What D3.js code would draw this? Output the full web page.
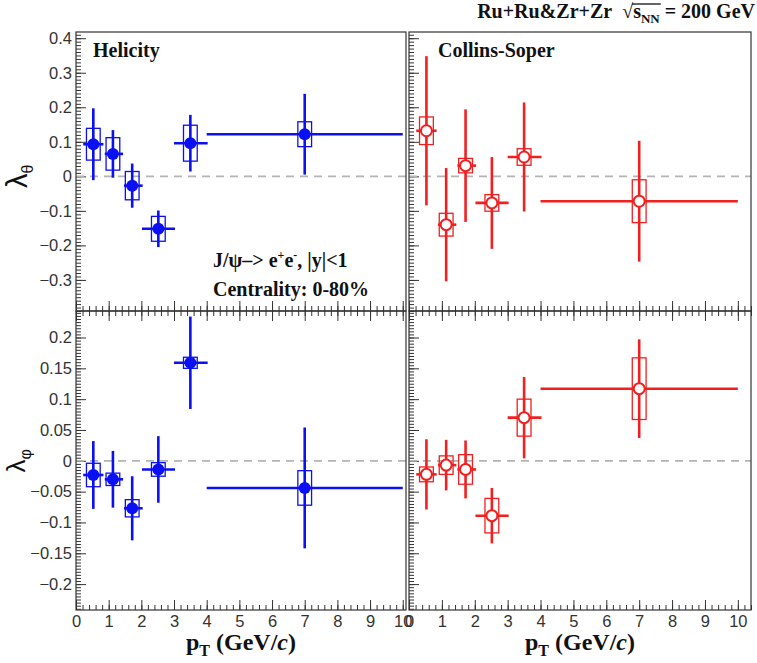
<!DOCTYPE html>
<html>
<head>
<meta charset="utf-8">
<script src="https://cdn.jsdelivr.net/npm/d3@7"></script>
<style>
  body { margin: 0; background: #fff; }
  svg text { font-family: "Liberation Sans", Arial, sans-serif; }
  .lbl { font-family: "Liberation Serif", "Times New Roman", serif !important; font-weight: bold; fill: #111; }
</style>
</head>
<body>
<div id="chart"></div>
<script>
// pT bins (GeV/c), shared by all four panels
const ptCenter = [0.53, 1.13, 1.72, 2.52, 3.5, 7.0];
const ptLow    = [0.22, 0.88, 1.47, 2.02, 3.0, 4.0];
const ptHigh   = [0.84, 1.44, 2.04, 3.03, 4.03, 10.0];

// Helicity frame
const heliTheta     = [0.093, 0.065, -0.027, -0.152, 0.096, 0.122];
const heliThetaStat = [0.104, 0.069, 0.064, 0.053, 0.082, 0.117];
const heliThetaSys  = [0.046, 0.047, 0.041, 0.036, 0.052, 0.036];
const heliPhi       = [-0.023, -0.030, -0.077, -0.014, 0.159, -0.044];
const heliPhiStat   = [0.055, 0.046, 0.052, 0.054, 0.075, 0.098];
const heliPhiSys    = [0.019, 0.010, 0.014, 0.011, 0.009, 0.028];

// Collins-Soper frame
const csTheta     = [0.132, -0.140, 0.031, -0.077, 0.056, -0.072];
const csThetaStat = [0.216, 0.164, 0.163, 0.133, 0.158, 0.175];
const csThetaSys  = [0.040, 0.033, 0.021, 0.024, 0.024, 0.062];
const csPhi       = [-0.022, -0.007, -0.014, -0.089, 0.070, 0.117];
const csPhiStat   = [0.057, 0.041, 0.047, 0.045, 0.066, 0.080];
const csPhiSys    = [0.012, 0.015, 0.024, 0.028, 0.030, 0.050];

// tick labels
const ptTicks = [0, 1, 2, 3, 4, 5, 6, 7, 8, 9, 10];
const thetaTicks = [-0.3, -0.2, -0.1, 0, 0.1, 0.2, 0.3, 0.4];
const phiTicks = [-0.2, -0.15, -0.1, -0.05, 0, 0.05, 0.1, 0.15, 0.2];

const blue = "#0b10f2", red = "#f02020";

const svg = d3.select("#chart")
  .append("svg")
    .attr("width", 757)
    .attr("height", 663);

const xScales = [
  d3.scaleLinear().domain([0, 10.1]).range([76, 406]),
  d3.scaleLinear().domain([0, 10.4]).range([409, 751])
];
const yScales = [
  d3.scaleLinear().domain([-0.39, 0.418]).range([311, 32]),
  d3.scaleLinear().domain([-0.242, 0.243]).range([610, 311])
];

const panels = [
  { col: 0, row: 0, vals: heliTheta, stat: heliThetaStat, sys: heliThetaSys, color: blue, open: false },
  { col: 1, row: 0, vals: csTheta,   stat: csThetaStat,   sys: csThetaSys,   color: red,  open: true },
  { col: 0, row: 1, vals: heliPhi,   stat: heliPhiStat,   sys: heliPhiSys,   color: blue, open: false },
  { col: 1, row: 1, vals: csPhi,     stat: csPhiStat,     sys: csPhiSys,     color: red,  open: true }
];

const yFmt = d3.format("~g");

function styleAxis(g) {
  g.select(".domain").remove();
  g.selectAll("line").attr("stroke", "#333");
  g.selectAll("text").attr("fill", "#333").style("font-size", "16.5px");
}

panels.forEach(p => {
  const x = xScales[p.col], y = yScales[p.row];
  const [x0, x1] = x.range();
  const [y0, y1] = y.range();
  const g = svg.append("g");

  // minor tick positions
  const ySteps = p.row === 0 ? 0.01 : 0.005;
  const yMinor = d3.range(Math.ceil(y.domain()[0] / ySteps), Math.floor(y.domain()[1] / ySteps) + 1)
    .map(i => i * ySteps);
  const xMinor = d3.range(0, Math.floor(x.domain()[1] / 0.2) + 1).map(i => i * 0.2);

  // Y Axis
  g.append("g").attr("transform", `translate(${x0},0)`)
    .call(d3.axisLeft(y).tickValues(yMinor).tickSize(-5).tickFormat(""))
    .call(styleAxis);
  g.append("g").attr("transform", `translate(${x0},0)`)
    .call(d3.axisLeft(y)
      .tickValues(p.row === 0 ? thetaTicks : phiTicks)
      .tickSize(-10).tickPadding(4)
      .tickFormat(p.col === 0 ? yFmt : ""))
    .call(styleAxis);

  // X Axis
  g.append("g").attr("transform", `translate(0,${y0})`)
    .call(d3.axisBottom(x).tickValues(xMinor).tickSize(-5).tickFormat(""))
    .call(styleAxis);
  g.append("g").attr("transform", `translate(0,${y0})`)
    .call(d3.axisBottom(x).tickValues(ptTicks).tickSize(-10).tickPadding(5)
      .tickFormat(p.row === 1 ? d3.format("d") : ""))
    .call(styleAxis);

  if (p.row === 1) {
    g.append("g").attr("transform", `translate(0,${y1})`)
      .call(d3.axisTop(x).tickValues(xMinor).tickSize(-5).tickFormat(""))
      .call(styleAxis);
    g.append("g").attr("transform", `translate(0,${y1})`)
      .call(d3.axisTop(x).tickValues(ptTicks).tickSize(-10).tickFormat(""))
      .call(styleAxis);
  }

  // zero line
  g.append("line")
    .attr("x1", x0).attr("x2", x1)
    .attr("y1", y(0)).attr("y2", y(0))
    .attr("stroke", "#b4b4b4")
    .attr("stroke-width", 1.8)
    .attr("stroke-dasharray", "8,6");

  const pts = p.vals.map((v, i) => ({
    x: ptCenter[i], lo: ptLow[i], hi: ptHigh[i], v, stat: p.stat[i], sys: p.sys[i]
  }));

  // systematic boxes
  g.selectAll("rect.sys")
    .data(pts)
    .join("rect")
      .attr("class", "sys")
      .attr("x", d => x(d.x - 0.21))
      .attr("width", d => x(d.x + 0.21) - x(d.x - 0.21))
      .attr("y", d => y(d.v + d.sys))
      .attr("height", d => y(d.v - d.sys) - y(d.v + d.sys))
      .attr("fill", "none")
      .attr("stroke", p.color)
      .attr("stroke-width", 1.3);

  // stat error bars
  g.selectAll("line.ey")
    .data(pts)
    .join("line")
      .attr("class", "ey")
      .attr("x1", d => x(d.x)).attr("x2", d => x(d.x))
      .attr("y1", d => y(d.v - d.stat)).attr("y2", d => y(d.v + d.stat))
      .attr("stroke", p.color)
      .attr("stroke-width", 2.6);
  g.selectAll("line.ex")
    .data(pts)
    .join("line")
      .attr("class", "ex")
      .attr("x1", d => x(d.lo)).attr("x2", d => x(d.hi))
      .attr("y1", d => y(d.v)).attr("y2", d => y(d.v))
      .attr("stroke", p.color)
      .attr("stroke-width", 2.6);

  // markers
  g.selectAll("circle")
    .data(pts)
    .join("circle")
      .attr("cx", d => x(d.x))
      .attr("cy", d => y(d.v))
      .attr("r", p.open ? 5.5 : 6)
      .attr("fill", p.open ? "#fff" : p.color)
      .attr("stroke", p.color)
      .attr("stroke-width", p.open ? 2 : 0);

  // frame
  g.append("rect")
    .attr("x", x0).attr("y", y1)
    .attr("width", x1 - x0).attr("height", y0 - y1)
    .attr("fill", "none")
    .attr("stroke", "#333")
    .attr("stroke-width", 1.2);
});

// panel labels
svg.append("text").attr("class", "lbl")
  .attr("x", 93).attr("y", 57)
  .style("font-size", "20px")
  .text("Helicity");
svg.append("text").attr("class", "lbl")
  .attr("x", 438).attr("y", 57)
  .style("font-size", "20px")
  .text("Collins-Soper");

const decay = svg.append("text").attr("class", "lbl")
  .attr("x", 213).attr("y", 267)
  .style("font-size", "20px");
decay.append("tspan").text("J/ψ–> e");
decay.append("tspan").attr("dy", -8).style("font-size", "12px").text("+");
decay.append("tspan").attr("dy", 8).text("e");
decay.append("tspan").attr("dy", -8).style("font-size", "12px").text("-");
decay.append("tspan").attr("dy", 8).text(", |y|<1");

svg.append("text").attr("class", "lbl")
  .attr("x", 213).attr("y", 296)
  .style("font-size", "20px")
  .text("Centrality: 0-80%");

// header
const head = svg.append("text").attr("class", "lbl")
  .attr("x", 755).attr("y", 18)
  .attr("text-anchor", "end")
  .style("font-size", "20px");
head.append("tspan").text("Ru+Ru&Zr+Zr");
head.append("tspan").attr("dx", 10).style("font-weight", "normal").text("√");
head.append("tspan").text("s");
head.append("tspan").attr("dy", 5).style("font-size", "13px").text("NN");
head.append("tspan").attr("dy", -5).text(" = 200 GeV");
const hn = head.node();
svg.append("line")
  .attr("x1", hn.getEndPositionOfChar(11).x - 1)
  .attr("x2", hn.getEndPositionOfChar(14).x + 1)
  .attr("y1", 4).attr("y2", 4)
  .attr("stroke", "#111")
  .attr("stroke-width", 1.3);

// axis titles
[0, 1].forEach(c => {
  const [a, b] = xScales[c].range();
  const t = svg.append("text").attr("class", "lbl")
    .attr("x", (a + b) / 2).attr("y", 650)
    .attr("text-anchor", "middle")
    .style("font-size", "24px");
  t.append("tspan").text("p");
  t.append("tspan").attr("dy", 6).style("font-size", "16px").text("T");
  t.append("tspan").attr("dy", -6).text(" (GeV/");
  t.append("tspan").style("font-style", "italic").text("c");
  t.append("tspan").text(")");
});

const yTitles = [["θ", 27], ["φ", 25]];
yTitles.forEach(([sub, tx], r) => {
  const t = svg.append("text")
    .attr("transform", `translate(${tx},${yScales[r](0)}) rotate(-90)`)
    .attr("text-anchor", "middle")
    .attr("fill", "#111")
    .style("font-size", r === 0 ? "29px" : "26px");
  t.append("tspan").text("λ");
  t.append("tspan").attr("dy", 6).style("font-size", "16px").text(sub);
});
</script>
</body>
</html>
